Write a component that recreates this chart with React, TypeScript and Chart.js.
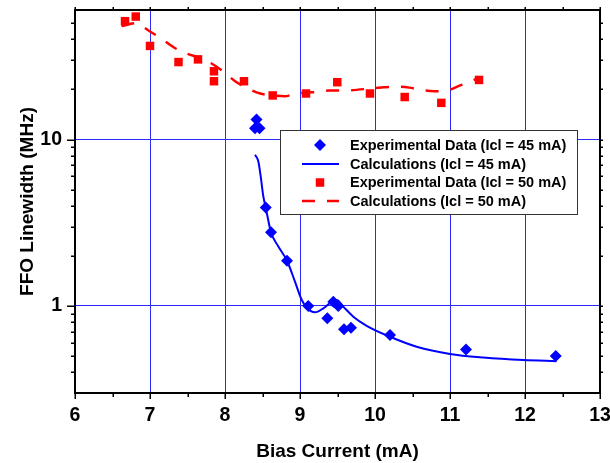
import React, { useEffect, useRef } from "react";
import { Chart, registerables } from "chart.js";

Chart.register(...registerables);

// ---- Data ----
const exp45X = [8.42, 8.40, 8.46, 8.543, 8.613, 8.827, 9.11, 9.364, 9.444, 9.51, 9.587, 9.68, 10.2, 11.213, 12.41];
const exp45Y = [13.2, 11.7, 11.7, 3.91, 2.77, 1.87, 1.0, 0.843, 1.06, 1.0, 0.724, 0.74, 0.669, 0.548, 0.50];

const calc45X = [8.40, 8.444, 8.476, 8.511, 8.543, 8.613, 8.711, 8.827, 8.933, 9.022, 9.097, 9.2, 9.311, 9.422, 9.489, 9.578, 9.711, 9.889, 10.2, 10.556, 11.0, 11.444, 11.978, 12.42];
const calc45Y = [8.1, 7.4, 6.0, 4.55, 3.9, 2.77, 2.28, 1.87, 1.40, 1.09, 0.968, 0.916, 0.968, 1.06, 1.087, 0.99, 0.862, 0.76, 0.653, 0.569, 0.515, 0.49, 0.473, 0.466];

const exp50X = [6.667, 6.81, 7.0, 7.38, 7.64, 7.853, 7.853, 8.253, 8.636, 9.08, 9.497, 9.933, 10.396, 10.884, 11.387];
const exp50Y = [51.4, 54.8, 36.5, 29.2, 30.3, 25.7, 22.4, 22.4, 18.4, 18.9, 22.1, 18.9, 18.0, 16.6, 22.8];

const calc50X = [6.62, 6.8, 6.99, 7.15, 7.32, 7.48, 7.65, 7.8, 7.99, 8.13, 8.31, 8.47, 8.64, 8.8, 8.91, 9.06, 9.24, 9.39, 9.56, 9.97, 10.12, 10.30, 10.46, 10.63, 10.79, 10.96, 11.12, 11.29, 11.36];
const calc50Y = [48.0, 50.0, 44.9, 40.4, 35.7, 33.0, 31.1, 29.0, 25.4, 22.5, 20.2, 18.9, 18.4, 18.2, 18.7, 19.1, 19.3, 19.7, 19.7, 20.3, 20.6, 20.8, 20.5, 19.8, 19.5, 19.7, 21.0, 22.5, 23.2];

const seriesLabels = [
  "Experimental Data (Icl = 45 mA)",
  "Calculations (Icl = 45 mA)",
  "Experimental Data (Icl = 50 mA)",
  "Calculations (Icl = 50 mA)",
];

const xMajorTicks = [6, 7, 8, 9, 10, 11, 12, 13];
const xMinorTicks = [6.5, 7.5, 8.5, 9.5, 10.5, 11.5, 12.5];
const yMajorTicks = [1, 10];
const yMinorTicks = [0.4, 0.5, 0.6, 0.7, 0.8, 0.9, 2, 3, 4, 5, 6, 7, 8, 9, 20, 30, 40, 50];

const xTitle = "Bias Current (mA)";
const yTitle = "FFO Linewidth (MHz)";

const FONT = "'Liberation Sans', Arial, Helvetica, sans-serif";
const BLUE = "#0000ff";
const RED = "#ff0000";
const GRID = "#2a2aff";

const zip = (xs: number[], ys: number[]) => xs.map((x, i) => ({ x, y: ys[i] }));

const framePlugin = {
  id: "frameTicks",
  afterDraw(chart: any) {
    const { ctx, chartArea: a, scales } = chart;
    const xs = scales.x;
    const ys = scales.y;
    ctx.save();
    ctx.strokeStyle = "#000";
    ctx.lineWidth = 1.5;
    const tick = (x1: number, y1: number, x2: number, y2: number) => {
      ctx.beginPath();
      ctx.moveTo(x1, y1);
      ctx.lineTo(x2, y2);
      ctx.stroke();
    };
    // bottom & top
    xMajorTicks.forEach((v) => {
      const p = Math.round(xs.getPixelForValue(v)) + 0.25;
      tick(p, a.bottom, p, a.bottom + 6);
      tick(p, a.top, p, a.top - 3);
    });
    xMinorTicks.forEach((v) => {
      const p = Math.round(xs.getPixelForValue(v)) + 0.25;
      tick(p, a.bottom, p, a.bottom + 4);
      tick(p, a.top, p, a.top - 3);
    });
    // left & right
    yMajorTicks.forEach((v) => {
      const p = Math.round(ys.getPixelForValue(v)) + 0.25;
      tick(a.left, p, a.left - 8, p);
      tick(a.right, p, a.right + 3, p);
    });
    yMinorTicks.forEach((v) => {
      const p = Math.round(ys.getPixelForValue(v)) + 0.25;
      tick(a.left, p, a.left - 4, p);
      tick(a.right, p, a.right + 3, p);
    });
    ctx.lineWidth = 2;
    ctx.strokeRect(a.left, a.top, a.right - a.left, a.bottom - a.top);

    // legend box
    const lx = 280, ly = 130, lw = 297, lh = 84;
    ctx.fillStyle = "#fff";
    ctx.fillRect(lx, ly, lw, lh);
    ctx.lineWidth = 1;
    ctx.strokeStyle = "#333";
    ctx.strokeRect(lx + 0.5, ly + 0.5, lw, lh);
    const rows = [145, 164, 182.5, 201];
    const ds = chart.data.datasets;
    rows.forEach((ry, i) => {
      const d = ds[i];
      const cx = 320;
      ctx.save();
      if (i === 0) {
        ctx.fillStyle = d.backgroundColor;
        ctx.beginPath();
        ctx.moveTo(cx - 6, ry);
        ctx.lineTo(cx, ry - 6);
        ctx.lineTo(cx + 6, ry);
        ctx.lineTo(cx, ry + 6);
        ctx.closePath();
        ctx.fill();
      } else if (i === 2) {
        ctx.fillStyle = d.backgroundColor;
        ctx.fillRect(cx - 4.25, ry - 4.25, 8.5, 8.5);
      } else {
        ctx.strokeStyle = d.borderColor;
        ctx.lineWidth = d.borderWidth;
        ctx.setLineDash(d.borderDash || []);
        ctx.beginPath();
        ctx.moveTo(302, ry);
        ctx.lineTo(339, ry);
        ctx.stroke();
      }
      ctx.restore();
      ctx.fillStyle = "#000";
      ctx.font = `bold 14.5px ${FONT}`;
      ctx.textBaseline = "middle";
      ctx.textAlign = "left";
      ctx.fillText(d.label, 350, ry + 0.5);
    });
    ctx.restore();
  },
};

export default function App() {
  const ref = useRef<HTMLCanvasElement | null>(null);
  useEffect(() => {
    if (!ref.current) return;
    const chart = new Chart(ref.current, {
      type: "scatter",
      data: {
        datasets: [
          {
            label: seriesLabels[0],
            data: zip(exp45X, exp45Y),
            showLine: false,
            pointStyle: "rectRot",
            pointRadius: 6,
            backgroundColor: BLUE,
            borderColor: BLUE,
            borderWidth: 0,
          },
          {
            label: seriesLabels[1],
            data: zip(calc45X, calc45Y),
            showLine: true,
            pointRadius: 0,
            borderColor: BLUE,
            backgroundColor: BLUE,
            borderWidth: 2,
            cubicInterpolationMode: "monotone",
          },
          {
            label: seriesLabels[2],
            data: zip(exp50X, exp50Y),
            showLine: false,
            pointStyle: "rect",
            pointRadius: 6,
            backgroundColor: RED,
            borderColor: RED,
            borderWidth: 0,
          },
          {
            label: seriesLabels[3],
            data: zip(calc50X, calc50Y),
            showLine: true,
            pointRadius: 0,
            borderColor: RED,
            backgroundColor: RED,
            borderWidth: 2.5,
            borderDash: [13, 12],
            cubicInterpolationMode: "monotone",
          },
        ] as any,
      },
      options: {
        animation: false,
        responsive: false,
        devicePixelRatio: 1,
        layout: { padding: { top: 10, right: 10, left: 0, bottom: 0 } },
        plugins: { legend: { display: false }, tooltip: { enabled: false } },
        scales: {
          x: {
            type: "linear",
            min: 6,
            max: 13,
            afterFit: (s: any) => {
              s.height = 70;
              s.paddingLeft = 0;
              s.paddingRight = 0;
            },
            afterBuildTicks: (s: any) => {
              s.ticks = xMajorTicks.map((v) => ({ value: v }));
            },
            ticks: {
              padding: 11,
              color: "#000",
              font: { family: FONT, size: 19.5, weight: "bold" },
              callback: (v: any) => String(v),
            },
            grid: {
              drawTicks: false,
              lineWidth: 1,
              color: (c: any) =>
                c.tick && c.tick.value > 6 && c.tick.value < 13 ? GRID : "rgba(0,0,0,0)",
            },
            border: { display: false },
            title: {
              display: true,
              text: xTitle,
              color: "#000",
              font: { family: FONT, size: 19, weight: "bold" },
              padding: { top: 0, bottom: 0 },
            },
          },
          y: {
            type: "logarithmic",
            min: 0.3,
            max: 60,
            afterFit: (s: any) => {
              s.width = 75;
              s.paddingTop = 0;
              s.paddingBottom = 0;
            },
            afterBuildTicks: (s: any) => {
              s.ticks = yMajorTicks.map((v) => ({ value: v }));
            },
            ticks: {
              padding: 13,
              color: "#000",
              font: { family: FONT, size: 19.5, weight: "bold" },
              callback: (v: any) => String(v),
            },
            grid: {
              drawTicks: false,
              lineWidth: 1,
              color: GRID,
            },
            border: { display: false },
            title: {
              display: true,
              text: yTitle,
              color: "#000",
              font: { family: FONT, size: 19, weight: "bold" },
              padding: { top: 16, bottom: 0 },
            },
          },
        },
      },
      plugins: [framePlugin],
    });
    return () => chart.destroy();
  }, []);
  return (
    <div style={{ position: "fixed", left: 0, top: 0, width: 610, height: 463, background: "#fff" }}>
      <canvas ref={ref} width={610} height={463} style={{ width: 610, height: 463, display: "block" }} />
    </div>
  );
}
